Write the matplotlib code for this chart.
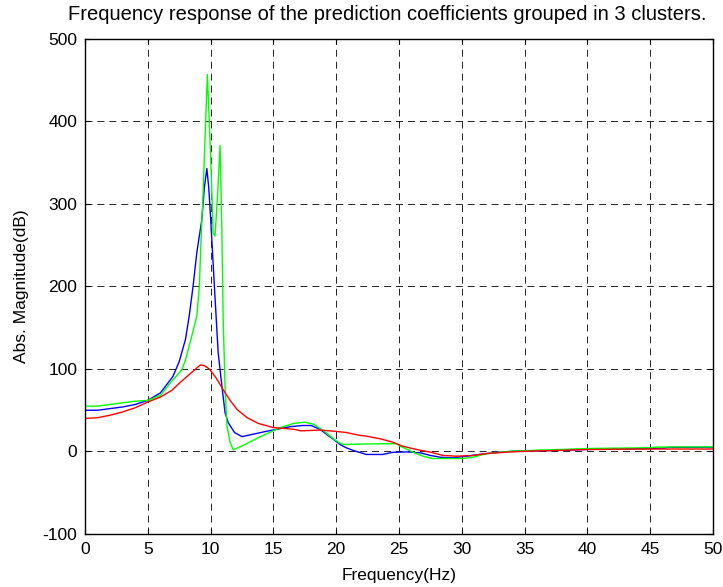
import matplotlib
matplotlib.use("Agg")
import matplotlib.pyplot as plt

# values (frequency in Hz, magnitude in dB)
blue_f = [0, 1, 2, 3, 4, 5, 6, 7, 7.5, 8, 8.3, 8.6, 8.9, 9.3, 9.5, 9.7, 9.85,
          10.0, 10.3, 10.6, 10.9, 11.15, 11.4, 11.9, 12.5, 13.4, 14.3, 15.3,
          16.3, 17.3, 18.0, 18.7, 19.3, 19.8, 20.3, 20.8, 21.4, 22.4, 23.7,
          24.5, 25.6, 26.7, 27.5, 28.3, 29.3, 30.4, 31.4, 32.5, 34.1, 36.2,
          38, 40, 42, 44, 46, 46.5, 48, 50]
blue_v = [50, 50, 52, 54, 57, 62, 71, 91, 109, 136, 165, 200, 241, 281, 320,
          343, 320, 283, 200, 120, 79, 47, 35, 23, 18, 21, 24, 27,
          30, 31.5, 31.5, 27, 20, 14.5, 8.5, 4.5, 1, -3.6, -3.6,
          -1, -0.5, -1.6, -4.8, -7, -7.7, -5.7, -3.6, -1.6, 0.4, 0.8,
          1.5, 2.5, 3, 3.5, 4, 5, 5, 5]

green_f = [0, 1, 2, 3, 4, 5, 6, 6.9, 7.7, 8.0, 8.5, 8.9, 9.1, 9.2, 9.3, 9.37,
           9.55, 9.74, 9.95, 10.09, 10.2, 10.35, 10.55, 10.75, 10.88, 11.0,
           11.15, 11.3, 11.55, 11.8, 12.6, 13.9, 15.5, 16.6, 17.5, 18.2, 19.0,
           19.8, 20.3, 20.6, 21.9, 24.8, 25.1, 26.1, 26.9, 27.7, 30.1, 30.9,
           31.7, 32.5, 34, 36, 38, 40, 42, 45, 45.3, 47, 50]
green_v = [55, 55, 57, 59, 61, 62, 68, 85, 99, 111, 140, 164, 200, 241, 281, 301,
           378, 457, 378, 318, 265, 261, 310, 371, 281, 160,
           79, 31, 11, 2, 7.5, 17.5, 28.7, 34, 35.5, 33, 25,
           15, 10, 8.5, 9, 9.5, 6.4, -0.8, -5.7, -8.5, -8.5, -7,
           -3.6, -1.6, 0.4, 1.6, 2.5, 3.6, 4, 4.5, 5.2, 5.5, 5.5]

red_f = [0, 1, 2, 3, 4, 5, 6, 6.9, 7.6, 8.5, 9.2, 9.5, 9.9, 10.4, 11.0, 11.5,
         12.1, 12.9, 13.8, 15, 16.6, 17.2, 18.7, 19.8, 20.8, 21.9, 22.4, 23.5,
         24.5, 25.3, 26.4, 27.5, 28.5, 29.6, 30.9, 32, 33.6, 35.2, 37, 40, 45, 50]
red_v = [40, 41, 44, 48, 53, 60, 66, 74, 84, 96, 105, 104, 100, 90, 75, 63,
         51, 41, 34, 29, 27, 25, 26, 24.6, 23, 19.5, 18.6, 15.4,
         11.3, 6.4, 2.4, -0.8, -4.8, -5.7, -4.8, -2.4, -0.8, 0.4, 1, 2.4, 3, 3]

x_ticks = list(range(0, 51, 5))
y_ticks = list(range(-100, 501, 100))

plt.rcParams['font.family'] = ['Liberation Sans', 'DejaVu Sans']
plt.rcParams['font.size'] = 12.5
plt.rcParams['lines.scale_dashes'] = False
plt.rcParams['axes.unicode_minus'] = False

fig = plt.figure(figsize=(7.23, 5.87), dpi=100)
ax = fig.add_axes([0.1176, 0.0903, 0.8686, 0.8433])

ax.plot(blue_f, blue_v, color='#0000ff', lw=1.0)
ax.plot(green_f, green_v, color='#00ff00', lw=1.0)
ax.plot(red_f, red_v, color='#ff0000', lw=1.0)

ax.set_xlim(0, 50)
ax.set_ylim(-100, 500)
ax.set_xticks(x_ticks)
ax.set_yticks(y_ticks)
ax.grid(True, color='k', lw=0.6, linestyle=(0, (5, 3.6)))
ax.tick_params(direction='in', top=True, right=True, length=3.5, width=0.8,
               pad=5.5, labelsize=12.5)
for s in ax.spines.values():
    s.set_linewidth(1.0)

# title sits a bit left of the axes centre in the original
ax.set_title('Frequency response of the prediction coefficients grouped in 3 clusters.',
             fontsize=14.5, pad=14, x=0.481)
ax.set_xlabel('Frequency(Hz)', labelpad=8)
ax.set_ylabel('Abs. Magnitude(dB)', labelpad=10)

plt.savefig('out.png', dpi=100)
